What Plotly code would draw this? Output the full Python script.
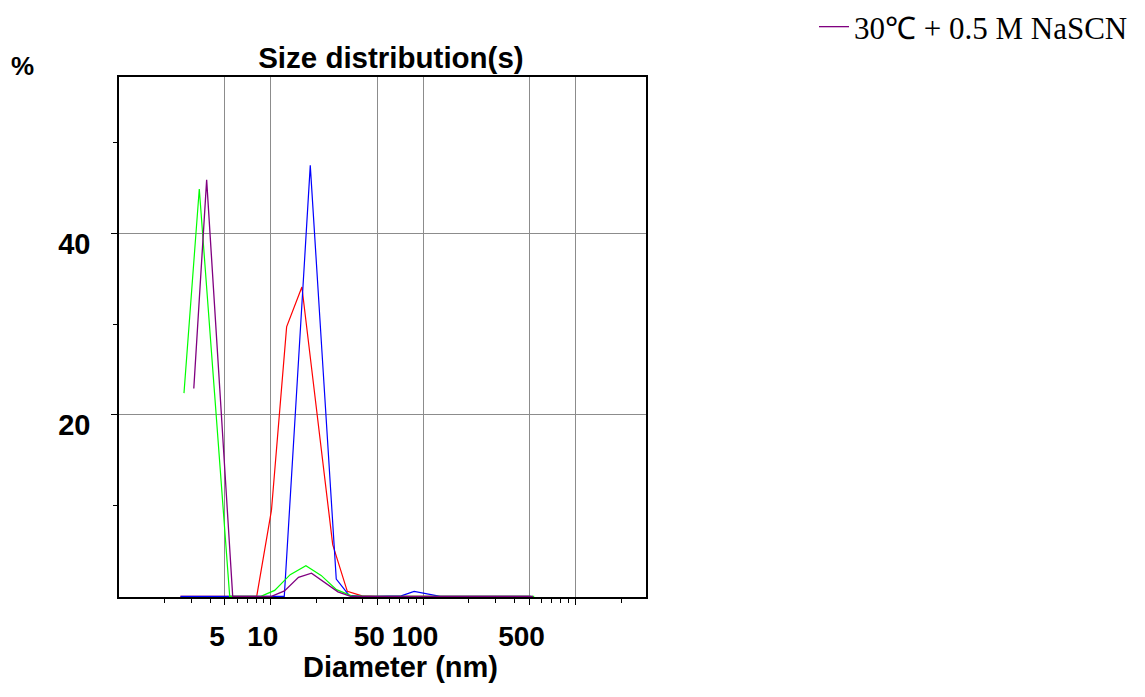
import plotly.graph_objects as go

# ---- data (diameter in nm, intensity in %) ----
green_x = [2.69, 3.39, 4.27, 5.37, 6.76, 8.6, 10.6, 13.4, 17.0, 21.4, 27.0, 33.9, 42.7,
           53.7, 67.6, 85.1, 107, 135, 170, 214, 269, 339, 427, 537]
green_y = [22.4, 44.9, 22.4, 0, 0, 0, 0.66, 2.39, 3.38, 2.31, 0.74, 0.05, 0,
           0, 0, 0, 0, 0, 0, 0, 0, 0, 0, 0]

purple_x = [3.12, 3.79, 4.62, 5.62, 6.84, 8.33, 10.1, 12.3, 15.2, 18.5, 22.6, 27.6, 33.4,
            40.8, 49.6, 60.4, 73.5, 89.5, 109, 133, 162, 197, 240, 292, 355, 433, 527]
purple_y = [22.9, 45.9, 22.9, 0, 0, 0, 0, 0.6, 2.1, 2.55, 1.5, 0.5, 0,
            0, 0, 0, 0, 0, 0, 0, 0, 0, 0, 0, 0, 0, 0]

red_x = [2.55, 3.21, 4.04, 5.09, 6.41, 8.08, 10.1, 12.7, 16.0, 20.1, 25.5, 31.8, 39.7,
         50.0, 63.0, 79.0, 100, 126, 158, 200, 251, 316, 398, 501]
red_y = [0, 0, 0, 0, 0, 0, 9.5, 29.7, 34.1, 19.9, 5.7, 0.55, 0.05,
         0, 0, 0, 0, 0.05, 0.05, 0, 0, 0, 0, 0]

blue_x = [2.55, 3.10, 3.77, 4.59, 5.59, 6.80, 8.28, 10.07, 12.26, 14.92, 18.16, 22.1, 26.9,
          32.7, 39.8, 48.5, 59.0, 71.8, 87.4, 106.4, 129.5, 157.6, 191.8, 233, 284, 346, 421, 512]
blue_y = [0, 0, 0, 0, 0, 0, 0, 0, 0, 23.7, 47.5, 24.7, 1.9,
          0.1, 0, 0, 0, 0.05, 0.55, 0.25, 0, 0, 0, 0, 0, 0, 0, 0]

x_tickvals = [5, 10, 50, 100, 500, 1000]
x_ticktext = ["5", "10", "50", "100", "500", ""]
x_minor = [2, 3, 4, 6, 7, 8, 9, 20, 30, 40, 60, 70, 80, 90,
           200, 300, 400, 600, 700, 800, 900, 2000, 3000]
y_tickvals = [20, 40]
y_ticktext = ["20", "40"]
y_minor = [10, 30, 50]

legend_name = "30℃ + 0.5 M NaSCN"

fig = go.Figure()
fig.add_trace(go.Scatter(x=red_x, y=red_y, mode="lines",
                         line=dict(color="#ff0000", width=1.2), showlegend=False))
fig.add_trace(go.Scatter(x=blue_x, y=blue_y, mode="lines",
                         line=dict(color="#0000ff", width=1.2), showlegend=False))
fig.add_trace(go.Scatter(x=green_x, y=green_y, mode="lines",
                         line=dict(color="#00ff00", width=1.2), showlegend=False))
fig.add_trace(go.Scatter(x=purple_x, y=purple_y, mode="lines", name=legend_name,
                         line=dict(color="#800080", width=1.3), showlegend=True))

axis_font = dict(family="Liberation Sans, Arial, sans-serif", size=29, color="black")

fig.update_layout(
    width=1145, height=697,
    margin=dict(l=119, r=499, t=77, b=100),
    paper_bgcolor="white", plot_bgcolor="white",
    title=dict(text="<b>Size distribution(s)</b>", x=0.516, xref="paper",
               y=1 - 58 / 697, yref="container", xanchor="center", yanchor="middle",
               font=dict(family="Liberation Sans, Arial, sans-serif", size=29.5, color="black")),
    xaxis=dict(type="log", range=[0.003, 3.464],
               tickmode="array", tickvals=x_tickvals,
               ticktext=["<b>%s</b>" % t if t else "" for t in x_ticktext],
               tickfont=dict(family="Liberation Sans, Arial, sans-serif", size=28, color="black"),
               ticks="outside", ticklen=6, tickcolor="black",
               ticklabelstandoff=8, ticklabelshift=-8,
               showgrid=True, gridcolor="#8c8c8c", gridwidth=1,
               showline=True, linecolor="black", linewidth=1.5, mirror=True,
               minor=dict(tickmode="array", tickvals=x_minor, ticks="outside",
                          ticklen=4, tickcolor="black", showgrid=False),
               zeroline=False),
    yaxis=dict(range=[-0.07, 57.24],
               tickmode="array", tickvals=y_tickvals,
               ticktext=["<b>%s</b>" % t for t in y_ticktext],
               tickfont=axis_font, ticks="outside", ticklen=6, tickcolor="black",
               ticklabelstandoff=15, ticklabelshift=10,
               showgrid=True, gridcolor="#8c8c8c", gridwidth=1,
               showline=True, linecolor="black", linewidth=1.5, mirror=True,
               minor=dict(tickmode="array", tickvals=y_minor, ticks="outside",
                          ticklen=4, tickcolor="black", showgrid=False),
               zeroline=False),
    legend=dict(x=814 / 1145, y=1 - 0 / 697, xref="container", yref="container",
                xanchor="left", yanchor="top", bgcolor="rgba(0,0,0,0)",
                font=dict(family="Liberation Serif, Times New Roman, serif", size=31, color="black")),
    annotations=[
        dict(text="<b>%</b>", x=(22 - 119) / 527, y=(597 - 66) / 520, xref="paper", yref="paper",
             showarrow=False, xanchor="center", yanchor="middle",
             font=dict(family="Liberation Sans, Arial, sans-serif", size=26, color="black")),
        dict(text="<b>Diameter (nm)</b>", x=(400 - 119) / 527, y=(597 - 667) / 520,
             xref="paper", yref="paper", showarrow=False, xanchor="center", yanchor="middle",
             font=dict(family="Liberation Sans, Arial, sans-serif", size=29, color="black")),
    ],
)

fig.write_html("out.html")
